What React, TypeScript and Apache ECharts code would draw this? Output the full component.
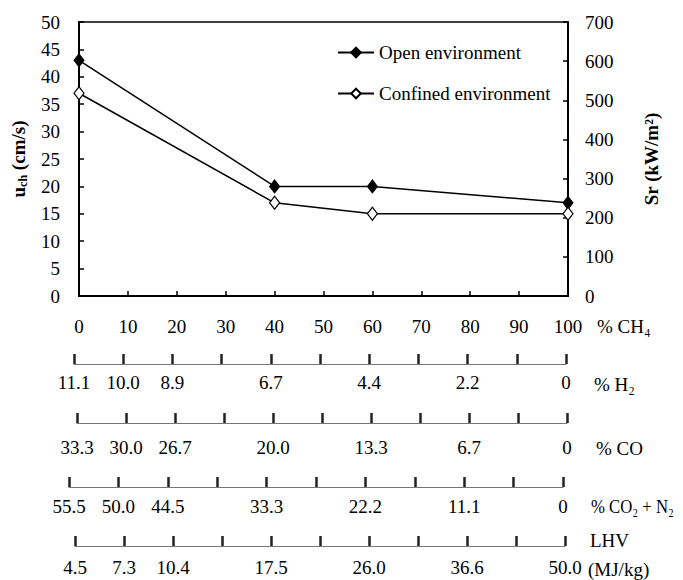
import React, { useEffect, useRef } from "react";
import * as echarts from "echarts";

const FONT = "Liberation Serif";

const openEnv: [number, number][] = [[0, 43], [40, 20], [60, 20], [100, 17]];
const confinedEnv: [number, number][] = [[0, 37], [40, 17], [60, 15], [100, 15]];

const rowPositions = [0, 10, 20, 40, 60, 80, 100];
const h2Labels = ["11.1", "10.0", "8.9", "6.7", "4.4", "2.2", "0"];
const coLabels = ["33.3", "30.0", "26.7", "20.0", "13.3", "6.7", "0"];
const co2n2Labels = ["55.5", "50.0", "44.5", "33.3", "22.2", "11.1", "0"];
const lhvLabels = ["4.5", "7.3", "10.4", "17.5", "26.0", "36.6", "50.0"];

const rowTitles = ["% CH₄", "% H₂", "% CO", "% CO₂ + N₂"];

export default function App() {
  const ref = useRef<HTMLDivElement>(null);
  useEffect(() => {
    if (!ref.current) return;
    const chart = echarts.init(ref.current, null, { renderer: "svg" });
    const fs = 19;
    const txt = { color: "#000", fontFamily: FONT, fontSize: fs };

    // extra rows: [left, right, lineY, labels, margin]
    const rows: [number, number, number, string[], number][] = [
      [74, 117, 364, h2Labels, 9],
      [77, 116, 423, coLabels, 15],
      [69, 120, 487, co2n2Labels, 10],
      [75, 118, 546, lhvLabels, 12],
    ];

    const grids: any[] = [
      { left: 79, right: 115, top: 22, height: 274, show: true, borderColor: "#000", borderWidth: 1.5, backgroundColor: "transparent" },
    ];
    const xAxes: any[] = [
      {
        type: "value", gridIndex: 0, min: 0, max: 100, interval: 10,
        axisLine: { lineStyle: { color: "#000", width: 2 } },
        axisTick: { inside: true, length: 5, lineStyle: { color: "#000", width: 1.5 } },
        axisLabel: { ...txt, margin: 21 },
        splitLine: { show: false },
      },
    ];
    const yAxes: any[] = [
      {
        type: "value", gridIndex: 0, min: 0, max: 50, interval: 5, position: "left",
        axisLine: { show: true, lineStyle: { color: "#000", width: 2 } },
        axisTick: { show: true, inside: true, length: 5, lineStyle: { color: "#000", width: 1.5 } },
        axisLabel: { ...txt, margin: 19 },
        splitLine: { show: false },
        name: "{b|u}{s|ch}{b| (cm/s)}",
        nameLocation: "middle",
        nameRotate: 90,
        nameGap: 50,
        nameTextStyle: {
          rich: {
            b: { fontFamily: FONT, fontSize: fs, fontWeight: "bold", color: "#000", lineHeight: 22 },
            s: { fontFamily: FONT, fontSize: 12, fontWeight: "bold", color: "#000", verticalAlign: "bottom", lineHeight: 12, padding: [8, 0, 0, 0] },
          },
        },
      },
      {
        type: "value", gridIndex: 0, min: 0, max: 700, interval: 100, position: "right",
        axisLine: { show: true, lineStyle: { color: "#000", width: 2 } },
        axisTick: { show: true, inside: true, length: 5, lineStyle: { color: "#000", width: 1.5 } },
        axisLabel: { ...txt, margin: 17 },
        splitLine: { show: false },
        name: "Sr (kW/m²)",
        nameLocation: "middle",
        nameRotate: 90,
        nameGap: 74,
        nameTextStyle: { fontFamily: FONT, fontSize: fs, fontWeight: "bold", color: "#000" },
      },
    ];

    rows.forEach(([l, r, y, labels, margin], i) => {
      const gi = i + 1;
      grids.push({ left: l, right: r, top: y - 1, height: 1 });
      xAxes.push({
        type: "value", gridIndex: gi, min: 0, max: 100, interval: 10,
        axisLine: { show: true, lineStyle: { color: "#777", width: 1 } },
        axisTick: { show: true, inside: true, length: 10, lineStyle: { color: "#222", width: 2.5 } },
        axisLabel: {
          ...txt, margin,
          showMinLabel: true, showMaxLabel: true,
          formatter: (v: number) => {
            const k = rowPositions.indexOf(Math.round(v));
            return k >= 0 ? labels[k] : "";
          },
        },
        splitLine: { show: false },
      });
      yAxes.push({ type: "value", gridIndex: gi, show: false, min: 0, max: 1 });
    });

    const titleStyle = (text: string, x: number, y: number, sx = 1) => ({
      type: "text", x, y, scaleX: sx,
      style: {
        text, fill: "#000", fontFamily: FONT, fontSize: fs,
        align: "left", verticalAlign: "middle", textAlign: "left", textVerticalAlign: "middle",
      },
    });

    chart.setOption({
      animation: false,
      grid: grids,
      xAxis: xAxes,
      yAxis: yAxes,
      legend: {
        orient: "vertical", left: 332, top: 38, itemWidth: 36, itemHeight: 12, itemGap: 22,
        textStyle: { ...txt }, itemStyle: {},
        data: ["Open environment", "Confined environment"],
      },
      graphic: [
        titleStyle(rowTitles[0], 597, 326),
        titleStyle(rowTitles[1], 594, 384),
        titleStyle(rowTitles[2], 596, 448),
        titleStyle(rowTitles[3], 591, 507, 0.88),
        titleStyle("LHV", 590, 540),
        titleStyle("(MJ/kg)", 588, 569),
      ],
      series: [
        {
          name: "Open environment", type: "line", xAxisIndex: 0, yAxisIndex: 0,
          data: openEnv, symbol: "diamond", symbolSize: [10, 13], clip: false,
          lineStyle: { color: "#000", width: 1.5 },
          itemStyle: { color: "#000", borderColor: "#000", borderWidth: 1 },
        },
        {
          name: "Confined environment", type: "line", xAxisIndex: 0, yAxisIndex: 0,
          data: confinedEnv, symbol: "diamond", symbolSize: [10, 13], clip: false,
          lineStyle: { color: "#000", width: 1.5 },
          itemStyle: { color: "#fff", borderColor: "#000", borderWidth: 1.2 },
        },
      ],
    });
    return () => chart.dispose();
  }, []);
  return <div ref={ref} style={{ position: "fixed", left: 0, top: 0, width: 683, height: 580, background: "#fff" }} />;
}
